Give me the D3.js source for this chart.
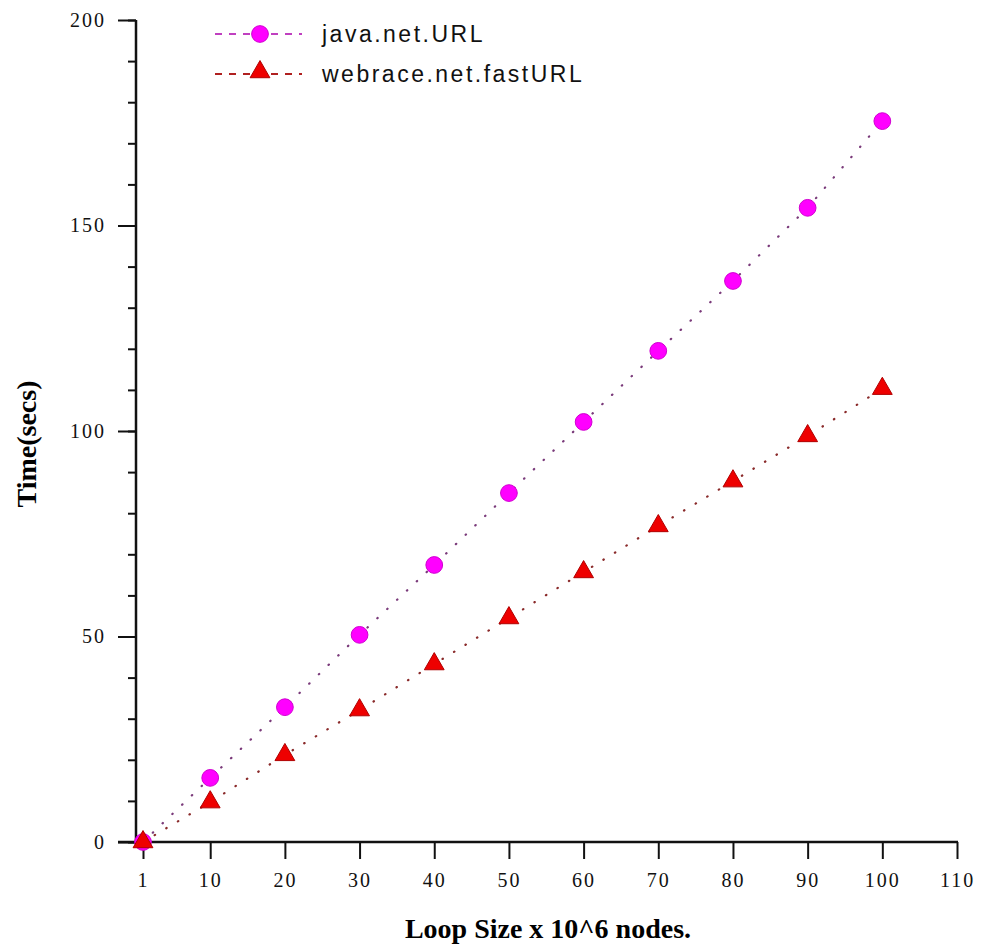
<!DOCTYPE html>
<html>
<head>
<meta charset="utf-8">
<script src="https://cdn.jsdelivr.net/npm/d3@7/dist/d3.min.js"></script>
<style>
  body { margin: 0; background: #fff; }
  .tick-lab { font-family: "Liberation Serif", "DejaVu Serif", serif; font-size: 20px; fill: #111; letter-spacing: 2px; }
  .ax-title { font-family: "Liberation Serif", "DejaVu Serif", serif; font-weight: bold; fill: #000; }
  .leg { font-family: "Liberation Sans", "DejaVu Sans", sans-serif; font-size: 23px; fill: #111; letter-spacing: 2.5px; }
</style>
</head>
<body>
<svg id="chart" width="982" height="947"></svg>
<script>
// loop size (x 10^6 nodes)
let loopSizes = [1, 10, 20, 30, 40, 50, 60, 70, 80, 90, 100];
// time in seconds
let javaUrl = [0, 15.6, 32.8, 50.4, 67.4, 84.9, 102.2, 119.5, 136.5, 154.3, 175.4];
let fastUrl = [0, 9.7, 21.2, 32.1, 43.3, 54.5, 65.7, 76.9, 87.8, 98.8, 110.3];
let seriesNames = ['java.net.URL', 'webrace.net.fastURL'];
let xTicks = [1, 10, 20, 30, 40, 50, 60, 70, 80, 90, 100, 110];
let yTicks = [0, 50, 100, 150, 200];
let yMinorTicks = d3.range(0, 201, 10);

let svg = d3.select('#chart');

// scales
let x = d3.scaleLinear().domain([1, 110]).range([143, 957]);
let y = d3.scaleLinear().domain([0, 200]).range([842, 20]);

// y axis: minor ticks first, then major with labels
let yMinor = d3.axisLeft(y).tickValues(yMinorTicks).tickSize(8).tickFormat('');
svg.append('g').attr('transform', 'translate(136,0)').call(yMinor)
    .call(g => g.select('.domain').remove())
    .selectAll('line').attr('stroke', '#111').attr('stroke-width', 2);

let yAxis = d3.axisLeft(y).tickValues(yTicks).tickSize(18).tickPadding(12);
let yG = svg.append('g').attr('transform', 'translate(136,0)').call(yAxis);
yG.select('.domain').remove();
yG.selectAll('line').attr('stroke', '#111').attr('stroke-width', 2);
yG.selectAll('text').attr('class', 'tick-lab').attr('font-family', null).attr('font-size', null);
// the vertical axis line
svg.append('line')
    .attr('x1', 136).attr('x2', 136)
    .attr('y1', y(200)).attr('y2', y(0))
    .attr('stroke', '#111').attr('stroke-width', 2.5);

// x axis
let xAxis = d3.axisBottom(x).tickValues(xTicks).tickSize(17).tickPadding(14);
let xG = svg.append('g').attr('transform', 'translate(0,842)').call(xAxis);
xG.select('.domain').remove();
xG.selectAll('line').attr('stroke', '#111').attr('stroke-width', 2);
xG.selectAll('text').attr('class', 'tick-lab').attr('font-family', null).attr('font-size', null);
svg.append('line')
    .attr('x1', 118).attr('x2', x(110) + 1)
    .attr('y1', y(0)).attr('y2', y(0))
    .attr('stroke', '#111').attr('stroke-width', 2.5);

// axis titles
svg.append('text')
    .attr('class', 'ax-title')
    .attr('x', 548).attr('y', 938)
    .attr('text-anchor', 'middle')
    .style('font-size', '28px')
    .text('Loop Size x 10^6 nodes.');

svg.append('text')
    .attr('class', 'ax-title')
    .attr('transform', 'translate(36,444) rotate(-90)')
    .attr('text-anchor', 'middle')
    .style('font-size', '28px')
    .text('Time(secs)');

// series
let series = [
    {name: seriesNames[0], values: javaUrl, line: '#7a3a7a', legLine: '#c040c0', shape: 'circle'},
    {name: seriesNames[1], values: fastUrl, line: '#8a2a2a', legLine: '#b02020', shape: 'triangle'}
];

let line = d3.line()
    .x(d => x(d[0]))
    .y(d => y(d[1]));

let circleSym = d3.symbol().type(d3.symbolCircle).size(220);
let triSym = d3.symbol().type(d3.symbolTriangle).size(170);

function drawMarker(g, shape) {
    if (shape === 'circle') {
        g.append('path').attr('d', circleSym)
            .attr('fill', '#ff00ff').attr('stroke', '#d000d0').attr('stroke-width', 1);
    } else {
        g.append('path').attr('d', triSym)
            .attr('fill', '#ee0000').attr('stroke', '#b00000').attr('stroke-width', 1);
    }
}

series.forEach(s => {
    let pts = loopSizes.map((v, i) => [v, s.values[i]]);
    svg.append('path')
        .attr('d', line(pts))
        .attr('fill', 'none')
        .attr('stroke', s.line)
        .attr('stroke-width', 2.2)
        .attr('stroke-linecap', 'round')
        .attr('stroke-dasharray', '0.5,13');
});

series.forEach(s => {
    svg.selectAll(null)
        .data(loopSizes.map((v, i) => [v, s.values[i]]))
        .enter()
        .append('g')
        .attr('transform', d => `translate(${x(d[0])},${y(d[1])})`)
        .each(function () { drawMarker(d3.select(this), s.shape); });
});

// legend
let legend = svg.append('g');
series.forEach((s, i) => {
    let ly = 34 + i * 40;
    legend.append('line')
        .attr('x1', 215).attr('x2', 302)
        .attr('y1', ly).attr('y2', ly)
        .attr('stroke', s.legLine)
        .attr('stroke-width', 2)
        .attr('stroke-dasharray', '7,7');
    let mg = legend.append('g').attr('transform', `translate(260,${ly - (i ? 2 : 0)})`);
    drawMarker(mg, s.shape);
    legend.append('text')
        .attr('class', 'leg')
        .attr('x', 322).attr('y', ly + 8)
        .text(s.name);
});
</script>
</body>
</html>
